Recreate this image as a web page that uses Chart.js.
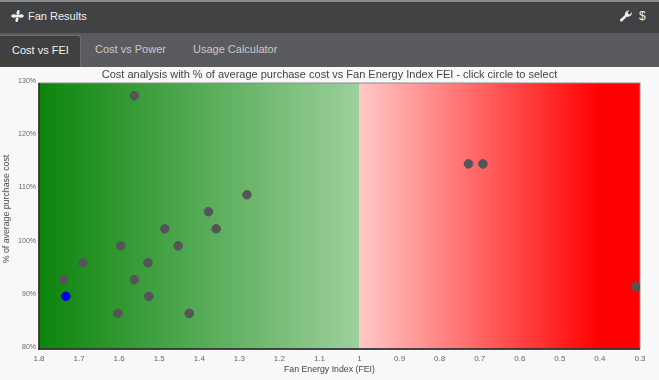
<!DOCTYPE html>
<html>
<head>
<meta charset="utf-8">
<title>Fan Results</title>
<script src="https://cdn.jsdelivr.net/npm/chart.js@4"></script>
<style>
    html, body { margin: 0; padding: 0; background: #f8f8f8; }
    body { width: 659px; height: 380px; overflow: hidden; position: relative; font-family: "Liberation Sans", Arial, sans-serif; }
    .header { position: absolute; left: 0; top: 0; width: 659px; height: 33px; box-sizing: border-box; background: #414244; border-top: 2px solid #8a8a8a; color: #eee; font-size: 11px; }
    .header .name { position: absolute; left: 28px; top: 8px; }
    .header svg { position: absolute; }
    .header .dollar { position: absolute; left: 639px; top: 7px; font-size: 12px; }
    .tabs { position: absolute; left: 0; top: 33px; width: 659px; height: 34px; background: #5a5b5e; font-size: 11px; color: #c8c8c8; }
    .tab { position: absolute; top: 2px; height: 32px; line-height: 28px; box-sizing: border-box; }
    .tab.active { left: 0; width: 81px; padding-left: 12px; background: #414040; color: #f2f2f2; border-radius: 0 3px 0 0; border: 1px solid #6d6d6d; border-left: 0; border-bottom: 0; }
    #chart-container { position: absolute; left: 0; top: 67px; width: 659px; height: 313px; }
    .chart-title { position: absolute; left: 0; top: 68px; width: 659px; text-align: center; font-size: 11px; line-height: 13px; color: #444; }
    .x-title { position: absolute; left: 0; top: 364px; width: 659px; text-align: center; font-size: 8.75px; line-height: 10px; color: #444; }
    .y-title { position: absolute; left: -94px; top: 204px; width: 200px; text-align: center; font-size: 8.75px; line-height: 10px; color: #444; transform: rotate(-90deg); }
</style>
</head>
<body>
<div class="header">
    <svg style="left:10px;top:7px" width="14" height="14" viewBox="0 0 14 14"><path fill="#eee" d="M7 6C6 3 7 1 9 1c1 1 1 3-1 5 3-1 5-1 6 1-1 2-3 2-6 1 1 3 0 5-2 5-1-1-1-3 1-5-3 1-5 1-6-1 1-2 3-2 6-1z"/></svg>
    <span class="name">Fan Results</span>
    <svg style="left:619px;top:7px" width="13" height="13" viewBox="0 0 13 13"><path fill="#eee" d="M1 10.5 6 6C5.500 3.500 7.500 1 10.500 1.500L8.500 3.500 9.500 5 11 5.500 13 3C13.500 6 10.500 8.500 8 7.500L3 12.500C2 13 .5 11.500 1 10.500z"/></svg>
    <span class="dollar">$</span>
</div>
<div class="tabs">
    <div class="tab active">Cost vs FEI</div>
    <div class="tab" style="left:95px">Cost vs Power</div>
    <div class="tab" style="left:193px">Usage Calculator</div>
</div>
<div id="chart-container"><canvas id="chart" width="659" height="313"></canvas></div>
<div class="chart-title">Cost analysis with % of average purchase cost vs Fan Energy Index FEI - click circle to select</div>
<div class="x-title">Fan Energy Index (FEI)</div>
<div class="y-title">% of average purchase cost</div>
<script>
const FEI = [1.562, 0.728, 0.692, 0.31, 1.281, 1.377, 1.358, 1.486, 1.453, 1.596, 1.528, 1.69, 1.739, 1.562, 1.526, 1.603, 1.425];
const COST = [127.6, 114.8, 114.8, 91.7, 109.0, 105.8, 102.6, 102.6, 99.4, 99.4, 96.2, 96.2, 93.0, 93.0, 89.9, 86.7, 86.7];
const SELECTED_FEI = [1.733];
const SELECTED_COST = [89.9];

const toPoints = (xs, ys) => xs.map((x, i) => ({ x: x, y: ys[i] }));

// green/red background split at FEI 1
const backgroundBands = {
    id: 'backgroundBands',
    beforeDatasetsDraw(chart) {
        const { ctx, chartArea: a, scales: { x } } = chart;
        const mid = x.getPixelForValue(1);

        const green = ctx.createLinearGradient(a.left, 0, mid, 0);
        green.addColorStop(0, '#0c850c');
        green.addColorStop(1, '#9dd09d');
        ctx.fillStyle = green;
        ctx.fillRect(a.left, a.top, mid - a.left, a.bottom - a.top);

        const red = ctx.createLinearGradient(mid, 0, x.getPixelForValue(0.4), 0);
        red.addColorStop(0, '#ffc8c8');
        red.addColorStop(1, '#ff0000');
        ctx.fillStyle = red;
        ctx.fillRect(mid, a.top, a.right - mid, a.bottom - a.top);

        ctx.strokeStyle = '#8c8c8c';
        ctx.lineWidth = 1;
        ctx.strokeRect(a.left, a.top, a.right - a.left, a.bottom - a.top);
        ctx.fillStyle = 'rgba(40,40,40,0.8)';
        ctx.fillRect(a.left - 1, a.top, 2, a.bottom - a.top + 1);
        ctx.fillRect(a.left - 1, a.bottom - 1, a.right - a.left + 1, 2);
    }
};

new Chart(document.getElementById('chart'), {
    type: 'scatter',
    plugins: [backgroundBands],
    data: {
        datasets: [{
            label: 'Selected',
            data: toPoints(SELECTED_FEI, SELECTED_COST),
            backgroundColor: '#0000ee',
            borderColor: '#0000ee',
            pointRadius: 4.3
        }, {
            label: 'Fans',
            data: toPoints(FEI, COST),
            backgroundColor: '#555558',
            borderColor: '#555558',
            pointRadius: 4.3
        }]
    },
    options: {
        responsive: false,
        animation: false,
        layout: { padding: { top: 16, right: 19, bottom: 0, left: 0 } },
        plugins: {
            legend: { display: false },
            tooltip: { enabled: false },
            title: { display: false }
        },
        scales: {
            x: {
                type: 'linear',
                reverse: true,
                min: 0.3,
                max: 1.8,
                afterFit(scale) { scale.height = 31; },
                grid: { display: false, drawTicks: false },
                border: { display: false },
                ticks: {
                    stepSize: 0.1,
                    autoSkip: false,
                    maxRotation: 0,
                    color: '#666',
                    padding: 5,
                    font: { family: '"Liberation Sans"', size: 8 },
                    callback: v => String(Math.round(v * 10) / 10)
                }
            },
            y: {
                min: 80,
                max: 130,
                afterFit(scale) { scale.width = 39; },
                grid: { display: false, drawTicks: false },
                border: { display: false },
                ticks: {
                    stepSize: 10,
                    color: '#666',
                    padding: 3,
                    labelOffset: -2,
                    font: { family: '"Liberation Sans"', size: 7 },
                    callback: v => v + '%'
                }
            }
        }
    }
});
</script>
</body>
</html>
